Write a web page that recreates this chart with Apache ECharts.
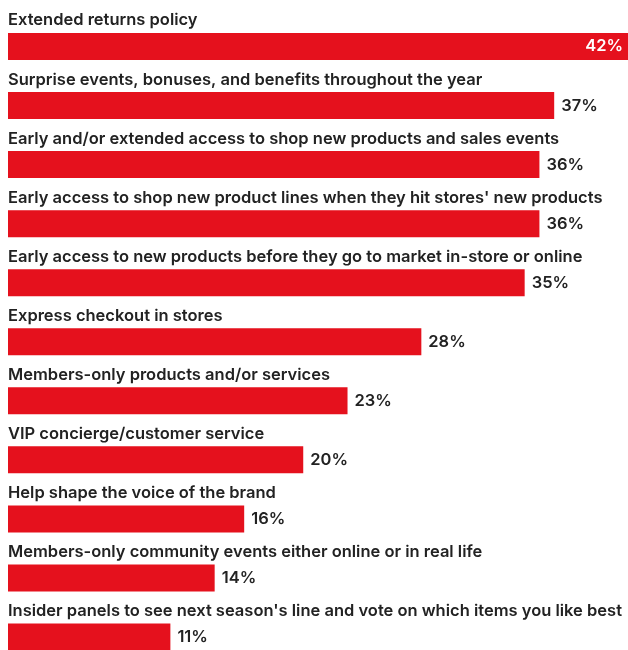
<!DOCTYPE html>
<html><head><meta charset="utf-8">
<script src="https://cdn.jsdelivr.net/npm/echarts@6/dist/echarts.min.js"></script>
<style>html,body{margin:0;padding:0;background:#fff}#c{width:628px;height:650px}</style>
</head><body><div id="c"></div>
<script>
const categories = [
  "Extended returns policy",
  "Surprise events, bonuses, and benefits throughout the year",
  "Early and/or extended access to shop new products and sales events",
  "Early access to shop new product lines when they hit stores' new products",
  "Early access to new products before they go to market in-store or online",
  "Express checkout in stores",
  "Members-only products and/or services",
  "VIP concierge/customer service",
  "Help shape the voice of the brand",
  "Members-only community events either online or in real life",
  "Insider panels to see next season's line and vote on which items you like best"
];
const values = [42, 37, 36, 36, 35, 28, 23, 20, 16, 14, 11];

const RED = '#E5111D';
const FONT = 'Inter';
const chart = echarts.init(document.getElementById('c'), null, {renderer: 'canvas'});
chart.setOption({
  animation: false,
  grid: {left: 8, right: 0, top: 46.5, bottom: 13, containLabel: false},
  xAxis: {type: 'value', min: 0, max: 42, show: false},
  yAxis: {type: 'category', data: categories, inverse: true, show: false, boundaryGap: false},
  series: [
    {
      type: 'bar', data: values.map((v, i) => ({
        value: v,
        label: i === 0 ? {position: 'insideRight', distance: 5, color: '#fff'} : {}
      })),
      barWidth: 27, itemStyle: {color: RED},
      label: {show: true, position: 'right', distance: 7, formatter: '{c}%',
        fontFamily: FONT, fontWeight: 600, fontSize: 16.5, color: '#222'}
    },
    {
      type: 'bar', data: values, barWidth: 27, barGap: '-100%',
      itemStyle: {color: 'rgba(0,0,0,0)'}, silent: true,
      label: {show: true, position: [0, -4], verticalAlign: 'bottom', align: 'left',
        formatter: p => categories[p.dataIndex],
        fontFamily: FONT, fontWeight: 600, fontSize: 16.5, color: '#222'}
    }
  ]
});
</script></body></html>
